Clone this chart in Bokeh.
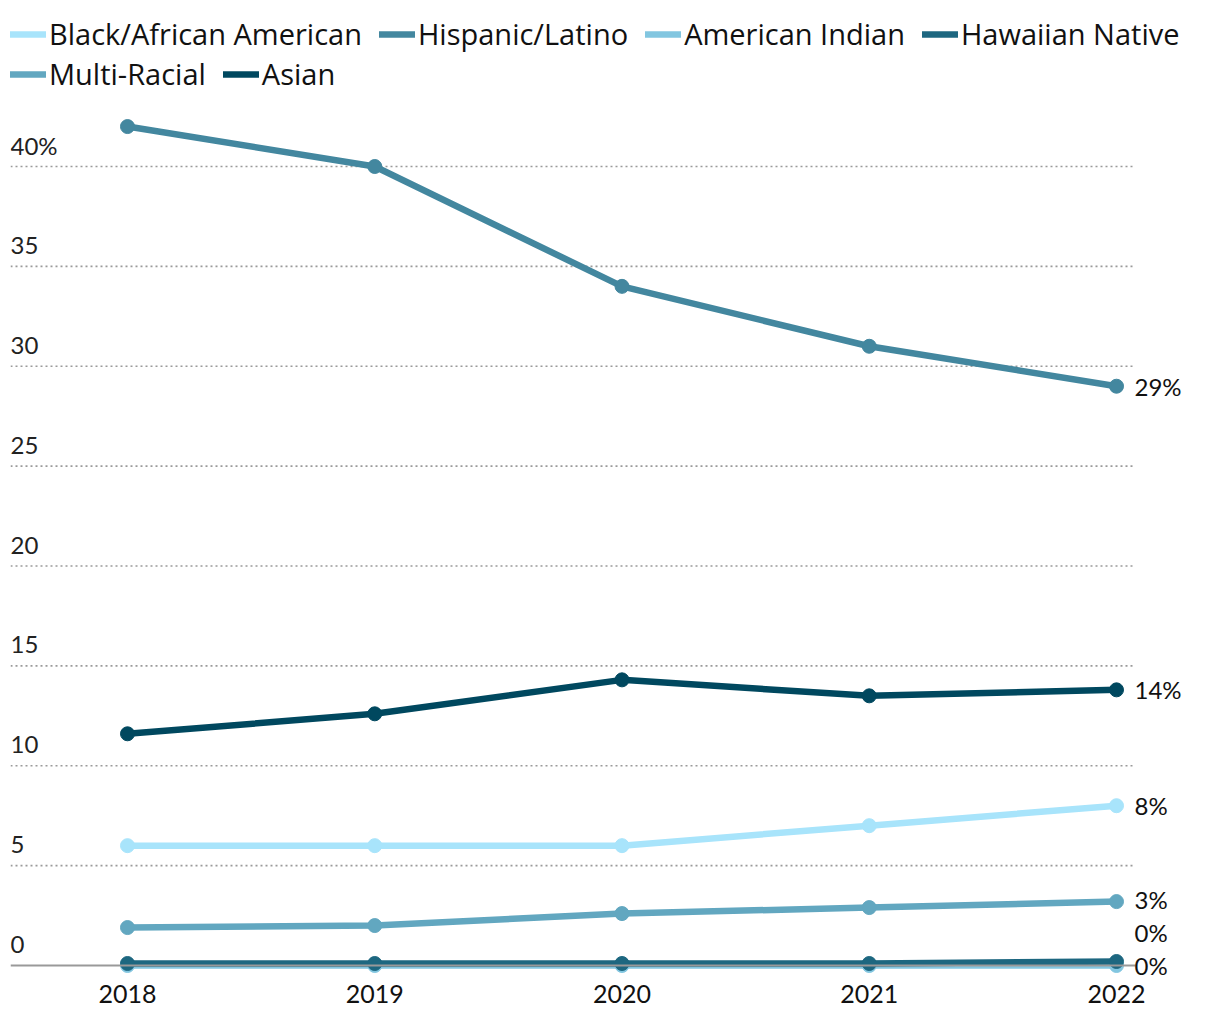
from bokeh.plotting import figure
from bokeh.models import (ColumnDataSource, Legend, LegendItem, FixedTicker, Range1d)
from bokeh.core.properties import value
from bokeh.embed import file_html
from bokeh.resources import INLINE

years = [2018, 2019, 2020, 2021, 2022]
black = [6.0, 6.0, 6.0, 7.0, 8.0]
hispanic = [42.0, 40.0, 34.0, 31.0, 29.0]
american_indian = [0.0, 0.0, 0.0, 0.0, 0.0]
hawaiian = [0.1, 0.1, 0.1, 0.1, 0.2]
multi = [1.9, 2.0, 2.6, 2.9, 3.2]
asian = [11.6, 12.6, 14.3, 13.5, 13.8]

series_names = ["Black/African American", "Hispanic/Latino", "American Indian",
                "Hawaiian Native", "Multi-Racial", "Asian"]
series_values = [black, hispanic, american_indian, hawaiian, multi, asian]
colors = ["#a8e4fb", "#43879f", "#82c6e0", "#1d6780", "#62a7c0", "#00485f"]

y_ticks = [0, 5, 10, 15, 20, 25, 30, 35, 40]
y_tick_labels = ["0", "5", "10", "15", "20", "25", "30", "35", "40%"]

FONT = "Lato"
LEG_FONT = "Open Sans"

PX_PER_UNIT = 19.975
PX_PER_YEAR = 247.25
W, H = 1204, 1012
LEFT, BOTTOM = 10, 33
FRAME_W = W - LEFT
FRAME_H = H - BOTTOM
ZERO_FROM_BOTTOM = 14  # px between frame bottom and the zero line
y0 = -ZERO_FROM_BOTTOM / PX_PER_UNIT
x0 = years[0] - 117 / PX_PER_YEAR
grid_end = years[-1] + 19 / PX_PER_YEAR
tick_lift = 21 / PX_PER_UNIT  # tick labels sit above their gridline

p = figure(width=W, height=H, output_backend="svg", toolbar_location=None,
           x_range=Range1d(x0, x0 + FRAME_W / PX_PER_YEAR),
           y_range=Range1d(y0, y0 + FRAME_H / PX_PER_UNIT),
           min_border_left=LEFT, min_border_right=0, min_border_top=0,
           min_border_bottom=BOTTOM)
p.outline_line_color = None
p.background_fill_color = "white"
p.border_fill_color = "white"

p.yaxis.visible = False
p.xgrid.visible = False
p.ygrid.visible = False

xa = p.xaxis[0]
xa.ticker = FixedTicker(ticks=years)
xa.axis_line_color = None
xa.major_tick_line_color = None
xa.minor_tick_line_color = None
xa.major_label_text_font = FONT
xa.major_label_text_font_size = "25px"
xa.major_label_text_color = "#111111"
xa.major_label_standoff = -1

# dotted gridlines (not at zero) and solid baseline, ending before the end labels
g_ticks = [t for t in y_ticks if t != 0]
p.segment(x0=[x0] * len(g_ticks), x1=[grid_end] * len(g_ticks), y0=g_ticks, y1=g_ticks,
          line_color="#9a9a9a", line_width=1.6, line_dash="2 3")

# y tick labels inside the frame, above the gridlines
tick_src = ColumnDataSource(dict(x=[x0] * len(y_ticks),
                                 y=[t + tick_lift for t in y_ticks], t=y_tick_labels))
p.text(x="x", y="y", text="t", source=tick_src, text_font=value(FONT),
       text_font_size="24px", text_color="#222222", text_baseline="alphabetic",
       text_align="left")

renderers = []
for name, vals, c in zip(series_names, series_values, colors):
    src = ColumnDataSource(dict(x=years, y=vals))
    l = p.line("x", "y", source=src, line_color=c, line_width=6.5,
               line_cap="round", line_join="round")
    s = p.scatter("x", "y", source=src, size=14, fill_color=c, line_color=c)
    renderers.append((name, l, s))

p.segment(x0=[x0], x1=[grid_end], y0=[0], y1=[0], line_color="#999999", line_width=2)

# end labels with simple collision avoidance
ends = sorted([v[-1] for v in series_values])
label_y, label_t = [], []
prev = None
for val in ends:
    yy = val if prev is None else max(val, prev + 1.65)
    label_y.append(yy)
    label_t.append(f"{round(val)}%")
    prev = yy
lab_src = ColumnDataSource(dict(x=[years[-1]] * len(label_y), y=label_y, t=label_t))
p.text(x="x", y="y", text="t", source=lab_src, x_offset=18,
       text_font=value(FONT), text_font_size="24px",
       text_color="#111111", text_baseline="middle", text_align="left")


def make_legend(items, loc):
    leg = Legend(items=[LegendItem(label=n, renderers=[l]) for n, l, s in items],
                 orientation="horizontal", location=loc,
                 label_text_font=LEG_FONT, label_text_font_size="29px",
                 label_text_color="#111111", glyph_width=36, glyph_height=30,
                 label_height=30, label_standoff=3, spacing=17, padding=0,
                 margin=0, border_line_color=None, background_fill_alpha=0)
    p.add_layout(leg, "center")


make_legend(renderers[:4], (0, FRAME_H - 53))
make_legend(renderers[4:], (0, FRAME_H - 93))

open("out.html", "w").write(file_html(p, INLINE))
